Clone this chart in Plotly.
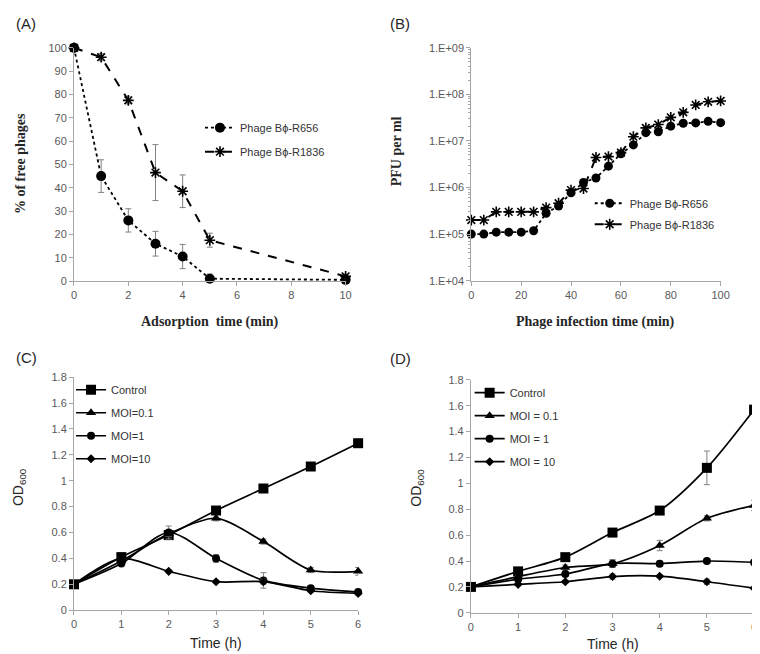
import plotly.graph_objects as go

W, H = 760, 654

# ---------------- data ----------------
# (A) adsorption
a_time = [0, 1, 2, 3, 4, 5, 10]
a_r656 = [100, 45, 26, 16, 10.5, 1, 0.5]
a_r656_err = [0.5, 7, 5, 5.3, 5.2, 2, 0.5]
a_r1836 = [100, 96, 77.5, 46.5, 38.5, 17.5, 2]
a_r1836_err = [1, 1.5, 1.5, 12, 7, 3, 1]

# (B) one-step growth
b_time = [0, 5, 10, 15, 20, 25, 30, 35, 40, 45, 50, 55, 60, 65, 70, 75, 80, 85, 90, 95, 100]
b_r656 = [1.0e5, 1.0e5, 1.1e5, 1.1e5, 1.1e5, 1.18e5, 2.8e5, 4.0e5, 7.7e5, 1.28e6, 1.6e6,
          2.87e6, 5.3e6, 8.2e6, 1.5e7, 1.57e7, 2.07e7, 2.39e7, 2.43e7, 2.63e7, 2.46e7]
b_r1836 = [2.0e5, 2.0e5, 3.0e5, 3.0e5, 3.0e5, 3.0e5, 3.7e5, 4.6e5, 8.8e5, 9.5e5, 4.4e6,
           4.6e6, 5.6e6, 1.23e7, 1.9e7, 2.24e7, 3.2e7, 4.1e7, 5.9e7, 6.9e7, 7.2e7]
b_tickvals = [1e4, 1e5, 1e6, 1e7, 1e8, 1e9]
b_ticktext = ["1.E+04", "1.E+05", "1.E+06", "1.E+07", "1.E+08", "1.E+09"]

# (C) lysis R656
c_time = [0, 1, 2, 3, 4, 5, 6]
c_control = [0.20, 0.41, 0.58, 0.77, 0.94, 1.11, 1.29]
c_control_err = [0.01, 0.01, 0.03, 0.02, 0.02, 0.02, 0.02]
c_moi01 = [0.20, 0.38, 0.59, 0.71, 0.53, 0.31, 0.30]
c_moi01_err = [0.01, 0.01, 0.02, 0.02, 0.02, 0.02, 0.03]
c_moi1 = [0.20, 0.36, 0.60, 0.40, 0.23, 0.17, 0.14]
c_moi1_err = [0.01, 0.01, 0.05, 0.03, 0.06, 0.02, 0.02]
c_moi10 = [0.20, 0.40, 0.30, 0.22, 0.22, 0.15, 0.13]
c_moi10_err = [0.01, 0.01, 0.01, 0.01, 0.02, 0.01, 0.01]

# (D) lysis R1836
d_time = [0, 1, 2, 3, 4, 5, 6]
d_control = [0.20, 0.32, 0.43, 0.62, 0.79, 1.12, 1.57]
d_control_err = [0.01, 0.01, 0.02, 0.02, 0.02, 0.13, 0.03]
d_moi01 = [0.20, 0.28, 0.35, 0.38, 0.52, 0.73, 0.83]
d_moi01_err = [0.01, 0.01, 0.02, 0.03, 0.04, 0.02, 0.04]
d_moi1 = [0.20, 0.26, 0.30, 0.38, 0.38, 0.40, 0.39]
d_moi1_err = [0.01, 0.01, 0.02, 0.03, 0.02, 0.02, 0.02]
d_moi10 = [0.20, 0.22, 0.24, 0.28, 0.283, 0.24, 0.19]
d_moi10_err = [0.01, 0.01, 0.01, 0.02, 0.01, 0.02, 0.01]


def fx(p):
    return p / W


def fy(p):
    return 1 - p / H


AXC = "#a6a6a6"
TICKFONT = dict(family="Liberation Sans, Arial", size=11, color="#595959")
LEGFONT = dict(family="Liberation Sans, Arial", size=11, color="#333333")
ERRC = "#808080"

fig = go.Figure()


def err(vals):
    return dict(type="data", array=vals, visible=True, color=ERRC, thickness=1, width=3)


# ---- A ----
fig.add_trace(go.Scatter(x=a_time, y=a_r656, error_y=err(a_r656_err), mode="lines+markers",
                         name="Phage Bϕ-R656", line=dict(color="black", width=1.8, dash="dot"),
                         marker=dict(symbol="circle", size=10, color="black"),
                         xaxis="x", yaxis="y", legend="legend", legendgroup="a1", cliponaxis=False))
fig.add_trace(go.Scatter(x=a_time, y=a_r1836, error_y=err(a_r1836_err), mode="lines+markers",
                         name="Phage Bϕ-R1836", line=dict(color="black", width=2, dash="dash"),
                         marker=dict(symbol="asterisk-open", size=9, color="black", line=dict(width=1.6, color="black")),
                         xaxis="x", yaxis="y", legend="legend", legendgroup="a2", cliponaxis=False))

# ---- B ----
fig.add_trace(go.Scatter(x=b_time, y=b_r656, mode="lines+markers",
                         name="Phage Bϕ-R656", line=dict(color="black", width=1.8, dash="dot"),
                         marker=dict(symbol="circle", size=9, color="black"),
                         xaxis="x2", yaxis="y2", legend="legend2", legendgroup="b1", cliponaxis=False))
fig.add_trace(go.Scatter(x=b_time, y=b_r1836, mode="lines+markers",
                         name="Phage Bϕ-R1836", line=dict(color="black", width=2, dash="dash"),
                         marker=dict(symbol="asterisk-open", size=9, color="black", line=dict(width=1.6, color="black")),
                         xaxis="x2", yaxis="y2", legend="legend2", legendgroup="b2", cliponaxis=False))

# ---- C / D ----
series_cd = [
    ("c", c_time, [(c_control, c_control_err, "Control", "square", 10),
                   (c_moi01, c_moi01_err, "MOI=0.1", "triangle-up", 9),
                   (c_moi1, c_moi1_err, "MOI=1", "circle", 8),
                   (c_moi10, c_moi10_err, "MOI=10", "diamond", 7)], "x3", "y3", "legend3"),
    ("d", d_time, [(d_control, d_control_err, "Control", "square", 10),
                   (d_moi01, d_moi01_err, "MOI = 0.1", "triangle-up", 9),
                   (d_moi1, d_moi1_err, "MOI = 1", "circle", 8),
                   (d_moi10, d_moi10_err, "MOI = 10", "diamond", 7)], "x4", "y4", "legend4"),
]
for key, t, sers, xa, ya, lg in series_cd:
    for i, (vals, e, nm, sym, sz) in enumerate(sers):
        fig.add_trace(go.Scatter(x=t, y=vals, error_y=err(e), mode="lines+markers", name=nm,
                                 line=dict(color="black", width=1.7, shape="spline", smoothing=0.8),
                                 marker=dict(symbol=sym, size=sz, color="black"),
                                 xaxis=xa, yaxis=ya, legend=lg, legendgroup=f"{key}{i}",
                                 cliponaxis=False))


def axis(**kw):
    base = dict(showline=True, linecolor=AXC, linewidth=1, ticks="outside", ticklen=4,
                tickcolor=AXC, showgrid=False, zeroline=False, tickfont=TICKFONT)
    base.update(kw)
    return base


b_minor = [m * 10 ** e for e in range(4, 9) for m in range(2, 10)]


def leg(xp, yp, gap):
    return dict(x=fx(xp), y=fy(yp), xanchor="left", yanchor="top", font=LEGFONT,
                bgcolor="rgba(0,0,0,0)", tracegroupgap=gap, traceorder="grouped")


fig.update_layout(
    width=W, height=H, margin=dict(l=0, r=0, t=0, b=0),
    paper_bgcolor="white", plot_bgcolor="white",
    xaxis=axis(domain=[fx(64), fx(340)], range=[0, 10], tickvals=[0, 2, 4, 6, 8, 10], anchor="y"),
    yaxis=axis(domain=[fy(272), fy(34.5)], range=[0, 100], dtick=10, anchor="x"),
    xaxis2=axis(domain=[fx(467.7), fx(721)], range=[0, 100], dtick=20, anchor="y2"),
    yaxis2=axis(domain=[fy(271.7), fy(34.3)], type="log", range=[4, 9], tickvals=b_tickvals,
                ticktext=b_ticktext, anchor="x2",
                minor=dict(tickmode="array", tickvals=b_minor, ticks="outside", ticklen=2, tickcolor=AXC)),
    xaxis3=axis(domain=[fx(64), fx(352.7)], range=[0, 6], dtick=1, anchor="y3"),
    yaxis3=axis(domain=[fy(607.3), fy(370)], range=[0, 1.8], dtick=0.2, anchor="x3"),
    xaxis4=axis(domain=[fx(467.3), fx(755)], range=[0, 6], dtick=1, anchor="y4"),
    yaxis4=axis(domain=[fy(610), fy(372.7)], range=[0, 1.8], dtick=0.2, anchor="x4"),
    legend=leg(192, 101, 5),
    legend2=leg(588, 178, 2),
    legend3=leg(61, 368, 4),
    legend4=leg(466, 371, 4),
    showlegend=True,
)

SERIF_B = dict(family="Liberation Serif, Times New Roman", size=14, color="#262626")
SANS_T = dict(family="Liberation Sans, Arial", size=14, color="#262626")
PANEL = dict(family="Liberation Sans, Arial", size=15, color="#262626")

annots = [
    dict(text="(A)", x=fx(3), y=fy(10), xanchor="left", yanchor="middle", font=PANEL),
    dict(text="(B)", x=fx(383), y=fy(10), xanchor="left", yanchor="middle", font=PANEL),
    dict(text="(C)", x=fx(3), y=fy(350), xanchor="left", yanchor="middle", font=PANEL),
    dict(text="(D)", x=fx(383), y=fy(351), xanchor="left", yanchor="middle", font=PANEL),
    dict(text="<b>% of free phages</b>", x=fx(9), y=fy(152), textangle=-90, font=SERIF_B,
         xanchor="center", yanchor="middle"),
    dict(text="<b>Adsorption  time (min)</b>", x=fx(202), y=fy(314), font=SERIF_B,
         xanchor="center", yanchor="middle"),
    dict(text="<b>PFU per ml</b>", x=fx(392), y=fy(140), textangle=-90, font=SERIF_B,
         xanchor="center", yanchor="middle"),
    dict(text="<b>Phage infection time (min)</b>", x=fx(594), y=fy(314), font=SERIF_B,
         xanchor="center", yanchor="middle"),
    dict(text="OD<sub>600</sub>", x=fx(8), y=fy(482), textangle=-90, font=SANS_T,
         xanchor="center", yanchor="middle"),
    dict(text="Time (h)", x=fx(208), y=fy(641), font=SANS_T, xanchor="center", yanchor="middle"),
    dict(text="OD<sub>600</sub>", x=fx(413), y=fy(482), textangle=-90, font=SANS_T,
         xanchor="center", yanchor="middle"),
    dict(text="Time (h)", x=fx(612), y=fy(642), font=SANS_T, xanchor="center", yanchor="middle"),
]
for a in annots:
    a.update(xref="paper", yref="paper", showarrow=False)
fig.update_layout(annotations=annots)

fig.write_html("out.html")
